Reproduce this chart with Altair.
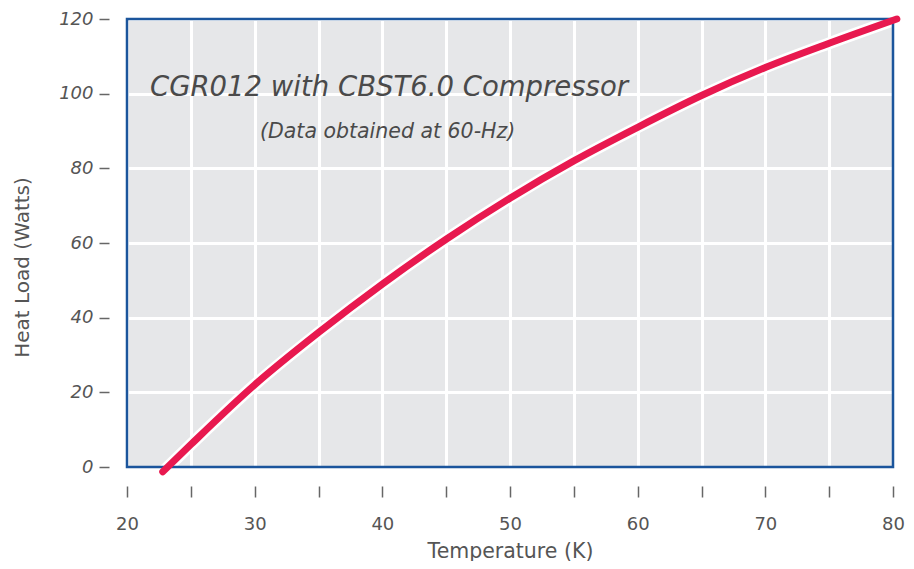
import altair as alt
import pandas as pd

temperature = [22.8, 25, 30, 35, 40, 45, 50, 55, 60, 65, 70, 75, 80.3]
heat_load = [-1.3, 6, 22, 36, 49, 61, 72, 82, 91, 99.5, 107, 113.5, 120]

x_ticks = [20, 25, 30, 35, 40, 45, 50, 55, 60, 65, 70, 75, 80]
y_ticks = [0, 10, 20, 30, 40, 50, 60, 70, 80, 90, 100, 110, 120]

title_text = "CGR012 with CBST6.0 Compressor"
subtitle_text = "(Data obtained at 60-Hz)"

FONT = "DejaVu Sans"
GRAY = "#555555"
TICK = "#666666"

W_PLOT = 766
H_PLOT = 448

df = pd.DataFrame({"T": temperature, "W": heat_load})

x_enc = alt.X(
    "T:Q",
    scale=alt.Scale(domain=[20, 80], nice=False, zero=False),
    axis=alt.Axis(
        values=x_ticks,
        title="Temperature (K)",
        labelExpr="datum.value % 10 == 0 ? datum.label : ''",
        labelFlush=False,
        domain=False,
        offset=19,
        tickSize=11,
        tickWidth=1.5,
        tickColor=TICK,
        labelPadding=18,
        labelFontSize=18,
        labelColor=GRAY,
        labelFont=FONT,
        titleFont=FONT,
        titleFontSize=20.5,
        titleFontWeight="normal",
        titleColor=GRAY,
        titlePadding=8,
        gridColor="white",
        gridWidth=3,
        gridOpacity=1,
    ),
)

y_enc = alt.Y(
    "W:Q",
    scale=alt.Scale(domain=[0, 120], nice=False),
    axis=alt.Axis(
        values=y_ticks,
        title="Heat Load (Watts)",
        labelExpr="datum.value % 20 == 0 ? datum.label : ''",
        labelFlush=False,
        domain=False,
        offset=18,
        tickSize=10,
        tickWidth=1.5,
        tickColor=TICK,
        labelPadding=6,
        labelFontSize=18,
        labelFontStyle="italic",
        labelColor=GRAY,
        labelFont=FONT,
        titleFont=FONT,
        titleFontSize=20,
        titleFontWeight="normal",
        titleColor=GRAY,
        titlePadding=26,
        titleY=248,
        gridColor="white",
        gridWidth=3,
        gridOpacity=1,
    ),
)

base = alt.Chart(df)

outline = base.mark_line(
    color="white", strokeWidth=12, strokeCap="round", interpolate="monotone"
).encode(x=x_enc, y=y_enc)

curve = base.mark_line(
    color="#E8194F", strokeWidth=7, strokeCap="round", interpolate="monotone"
).encode(x="T:Q", y="W:Q")

ann = pd.DataFrame({"txt": [title_text]})
ann2 = pd.DataFrame({"txt": [subtitle_text]})

title_mark = alt.Chart(ann).mark_text(
    align="left", baseline="middle", fontSize=27.5, fontStyle="italic",
    font=FONT, color="#4A4A4A"
).encode(text="txt:N", x=alt.value(23), y=alt.value(69))

sub_mark = alt.Chart(ann2).mark_text(
    align="left", baseline="middle", fontSize=20.5, fontStyle="italic",
    font=FONT, color="#4A4A4A"
).encode(text="txt:N", x=alt.value(133), y=alt.value(113))

frame = alt.Chart(pd.DataFrame({"k": [0]})).mark_rect(
    fillOpacity=0, stroke="#1B559C", strokeWidth=2.5
).encode(x=alt.value(0), x2=alt.value(W_PLOT), y=alt.value(0), y2=alt.value(H_PLOT))

chart = alt.layer(outline, frame, curve, title_mark, sub_mark).properties(
    width=W_PLOT,
    height=H_PLOT,
    autosize=alt.AutoSizeParams(type="none"),
    padding={"left": 119, "top": 11, "right": 13, "bottom": 94},
).configure_view(
    fill="#E6E7E9", strokeWidth=0
)

chart.save("out.html", embed_options={"renderer": "svg", "actions": False})
